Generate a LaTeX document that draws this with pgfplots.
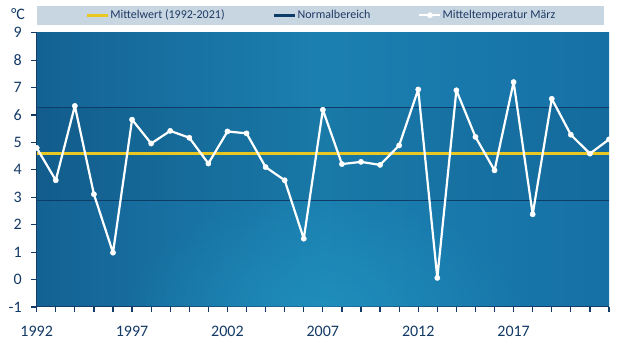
\documentclass[border=0pt]{standalone}
\usepackage{pgfplots}
\pgfplotsset{compat=1.18}
\usetikzlibrary{fadings}
\usepackage{fontspec}
\setmainfont{Carlito}
\definecolor{navy}{RGB}{20,58,102}
\definecolor{linenavy}{RGB}{14,60,104}
\definecolor{legendbg}{RGB}{200,214,226}
\definecolor{legendtext}{RGB}{30,58,100}
\definecolor{meanyellow}{RGB}{234,200,36}
\definecolor{bgL}{RGB}{20,98,148}
\definecolor{bgM}{RGB}{27,128,176}
\definecolor{bgR}{RGB}{22,112,166}
\definecolor{glow}{RGB}{34,150,194}
\tikzfading[name=softglow, inner color=transparent!35, outer color=transparent!100]
\begin{document}
\begin{tikzpicture}[x=1pt,y=1pt]
\path[use as bounding box, fill=white] (0,0) rectangle (632,355);
\begin{axis}[
  at={(36.7pt,48pt)}, anchor=south west,
  scale only axis, width=572.3pt, height=274.3pt,
  xmin=1992, xmax=2022, ymin=-1, ymax=9,
  axis x line*=bottom, axis y line*=left,
  axis line style={draw=navy, line width=1pt},
  xtick={1992,1993,...,2022},
  xticklabels={1992,,,,,1997,,,,,2002,,,,,2007,,,,,2012,,,,,2017,,,,,},
  ytick={-1,0,...,9},
  tick align=outside,
  major tick length=5.5pt,
  xtick style={draw=navy, line width=1.2pt},
  ytick style={draw=navy, line width=1.2pt},
  ticklabel style={font=\fontsize{16}{18}\selectfont, text=navy},
  /pgf/number format/assume math mode=true,
  xticklabel style={yshift=-10pt},
  yticklabel style={xshift=-6pt},
  axis background/.style={shade, left color=bgL, right color=bgR, middle color=bgM},
  clip=false,
  legend columns=3,
  legend style={at={(0.4965,1.0636)}, anchor=center, fill=legendbg, draw=none,
    inner xsep=48pt, inner ysep=2.5pt,
    font=\fontsize{12}{14}\selectfont, text=legendtext,
    nodes={inner xsep=1pt},
    /tikz/every even column/.append style={column sep=47pt}},
  legend cell align=left,
  legend image code/.code={\draw[mark repeat=2,mark phase=2,#1] plot coordinates {(0pt,0pt) (10.5pt,0pt) (21pt,0pt)};},
]
% soft lighter glow near bottom centre
\begin{scope}
\clip (rel axis cs:0,0) rectangle (rel axis cs:1,1);
\fill[glow, path fading=softglow] (axis cs:2007,-1.2) ellipse [x radius=200pt, y radius=120pt];
\end{scope}
% darker normal band
\addplot[draw=none, fill=black, fill opacity=0.05, forget plot] coordinates {(1992,2.88) (2022,2.88) (2022,6.28) (1992,6.28)} -- cycle;
% mean
\addplot[meanyellow, line width=3pt, mark=none] coordinates {(1992,4.58) (2022,4.58)};
\addlegendentry{Mittelwert (1992-2021)}
% normal range
\addplot[linenavy, line width=1.5pt, mark=none, legend image post style={line width=3pt}] coordinates {(1992,6.28) (2022,6.28)};
\addlegendentry{Normalbereich}
\addplot[linenavy, line width=1.5pt, mark=none, forget plot] coordinates {(1992,2.88) (2022,2.88)};
% series
\addplot[white, line width=2.2pt, line join=round, mark=*, mark size=2.6pt, mark options={fill=white, draw=white, line width=0.5pt}] coordinates {
(1992,4.80) (1993,3.62) (1994,6.33) (1995,3.11) (1996,0.98)
(1997,5.83) (1998,4.96) (1999,5.42) (2000,5.17) (2001,4.23)
(2002,5.40) (2003,5.33) (2004,4.10) (2005,3.62) (2006,1.49)
(2007,6.19) (2008,4.21) (2009,4.29) (2010,4.18) (2011,4.89)
(2012,6.93) (2013,0.06) (2014,6.90) (2015,5.20) (2016,3.98)
(2017,7.20) (2018,2.38) (2019,6.59) (2020,5.28) (2021,4.59)
(2022,5.11)
};
\addlegendentry{Mitteltemperatur März}
\end{axis}
\node[text=navy, font=\fontsize{16}{18}\selectfont] at (18,341) {°C};
\end{tikzpicture}
\end{document}
